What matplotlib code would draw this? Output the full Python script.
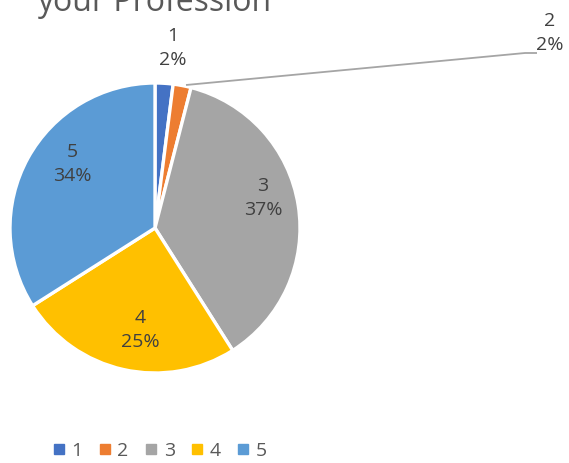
import matplotlib
matplotlib.use("Agg")
import matplotlib.pyplot as plt
from matplotlib.lines import Line2D

categories = ["1", "2", "3", "4", "5"]
values = [2, 2, 37, 25, 34]
colors = ["#4472C4", "#ED7D31", "#A5A5A5", "#FFC000", "#5B9BD5"]
title = "your Profession"

W, H = 569, 463
fig = plt.figure(figsize=(W / 100, H / 100), dpi=100)
ax = fig.add_axes([0, 0, 1, 1])

cx, cy, r = 155, H - 228, 145
wedges, _ = ax.pie(values, colors=colors, startangle=90, counterclock=False,
                   center=(cx, cy), radius=r, frame=True,
                   wedgeprops=dict(edgecolor="white", linewidth=2.4))
ax.set_xlim(0, W)
ax.set_ylim(0, H)
ax.set_aspect("equal")
ax.axis("off")

font = ["Open Sans", "DejaVu Sans"]
tc = "#404040"
lbl = dict(fontsize=14, color=tc, family=font, ha="center", va="center",
           linespacing=1.45)

pct = [f"{v}%" for v in values]
# label positions (pixel coords from top)
pos = {0: (173, 48), 1: (550, 33), 2: (263, 198), 3: (140, 330), 4: (72, 164)}
for i, (x, y) in pos.items():
    ax.text(x, H - y, f"{categories[i]}\n{pct[i]}", **lbl)

# leader line for slice 2
ax.plot([186, 525, 537], [H - 85, H - 53, H - 53], color="#A5A5A5", lw=1.3,
        solid_capstyle="butt")

ax.text(37, H - 11, title, fontsize=23, color="#595959", family=font,
        ha="left", va="baseline")

handles = [Line2D([], [], marker="s", linestyle="none", markersize=7,
                  markerfacecolor=c, markeredgecolor=c) for c in colors]
leg = ax.legend(handles, categories, loc="center", ncol=5,
                bbox_to_anchor=(160 / W, 1 - 451 / H), frameon=False,
                handlelength=0.6, handletextpad=0.35, columnspacing=0.85,
                prop={"family": font, "size": 14})
for t in leg.get_texts():
    t.set_color("#595959")

fig.savefig("out.png", dpi=100, facecolor="white")
